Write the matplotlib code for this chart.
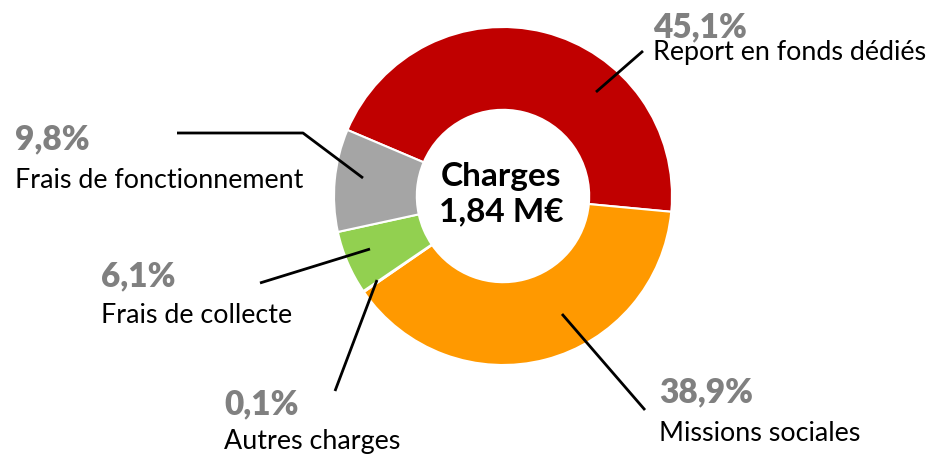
import matplotlib
matplotlib.use("Agg")
import matplotlib.pyplot as plt

plt.rcParams['font.family'] = ['Lato', 'DejaVu Sans']

# données
categories = ["Report en fonds dédiés", "Missions sociales", "Autres charges",
              "Frais de collecte", "Frais de fonctionnement"]
values = [45.1, 38.9, 0.1, 6.1, 9.8]
pct_labels = ["45,1%", "38,9%", "0,1%", "6,1%", "9,8%"]
colors = ["#C00000", "#FF9900", "#4472C4", "#92D050", "#A5A5A5"]
total_label = "Charges\n1,84 M€"

W, H = 932, 457
fig = plt.figure(figsize=(W / 100, H / 100), dpi=100)
ax = fig.add_axes([0, 0, 1, 1])

def py(y):
    # coordonnées en pixels depuis le haut
    return H - y

cx, cy, r_out = 503, py(196), 169
ax.pie(values, colors=colors, startangle=157, counterclock=False,
       center=(cx, cy), radius=r_out, frame=True,
       wedgeprops=dict(width=r_out * 0.49, edgecolor='white', linewidth=1.5))
ax.set_xlim(0, W)
ax.set_ylim(0, H)
ax.set_aspect('equal')
ax.axis('off')

# position des étiquettes (x gauche, ligne de base %, ligne de base nom)
label_pos = {
    "Report en fonds dédiés": (653, 37, 60),
    "Missions sociales": (659, 402, 441),
    "Autres charges": (224, 414, 449),
    "Frais de collecte": (101, 286, 323),
    "Frais de fonctionnement": (15, 149, 188),
}
# lignes de rappel
leaders = {
    "Report en fonds dédiés": [(596, 92), (643, 51)],
    "Missions sociales": [(562, 314), (645, 410)],
    "Autres charges": [(377, 280), (335, 391)],
    "Frais de collecte": [(370, 249), (260, 283)],
    "Frais de fonctionnement": [(363, 178), (303, 133), (177, 133)],
}

for cat, pct in zip(categories, pct_labels):
    x, yb1, yb2 = label_pos[cat]
    ax.text(x, py(yb1), pct, fontsize=24, fontweight='heavy', color='#808080',
            va='baseline', ha='left')
    ax.text(x, py(yb2), cat, fontsize=19.4, color='black', va='baseline', ha='left')
    pts = leaders[cat]
    ax.plot([p[0] for p in pts], [py(p[1]) for p in pts], color='black', lw=2,
            solid_capstyle='butt')

ax.text(501, py(194), total_label, fontsize=24, fontweight='bold', color='black',
        ha='center', va='center', linespacing=1.25)

fig.savefig("out.png", dpi=100)
